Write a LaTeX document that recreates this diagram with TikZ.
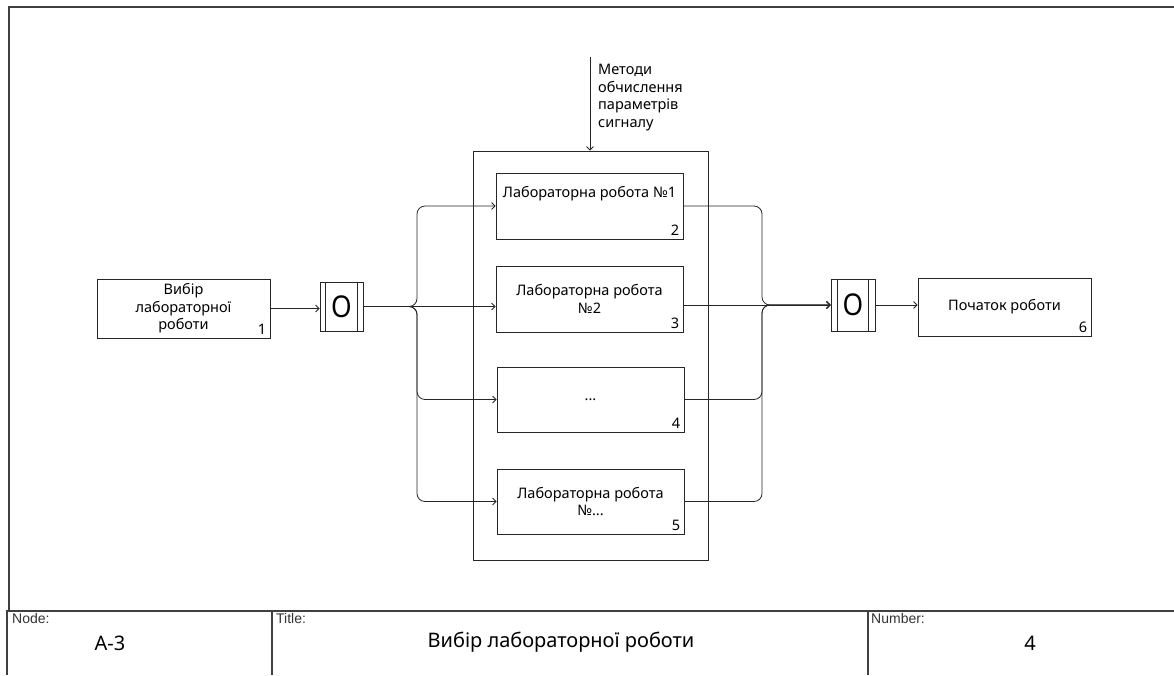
\documentclass[tikz,border=0pt]{standalone}
\usepackage{fontspec}
\setmainfont{Noto Sans}
\newfontfamily\smallf{Liberation Sans}
\usetikzlibrary{arrows.meta}
\tikzset{
  boxst/.style={draw=black!85, line width=0.8pt, inner sep=0pt, align=center,
    font=\fontsize{14.5}{17.5}\selectfont},
  numst/.style={anchor=south east, inner sep=4pt, font=\fontsize{14.5}{15}\selectfont},
  junc/.style={draw=black!85, line width=0.8pt, inner sep=0pt, font=\fontsize{30}{32}\selectfont},
  arr/.style={-{Straight Barb[length=3.5pt,width=7pt]}, line width=0.8pt, draw=black!85},
  ln/.style={line width=0.8pt, draw=black!85},
  framest/.style={line width=1.4pt, draw=black!75},
  capst/.style={anchor=north west, inner sep=0pt, font=\smallf\fontsize{14}{15}\selectfont, text=black!80},
  bigst/.style={font=\fontsize{20}{22}\selectfont}
}
\begin{document}
\begin{tikzpicture}[x=1pt,y=-1pt]
\useasboundingbox (0,0) rectangle (1174,675);
% outer frame
\draw[framest] (1174,7) -- (9,7) -- (9,611);
\draw[framest] (7,675) -- (7,611) -- (1174,611);
\draw[framest] (272,611) -- (272,675);
\draw[framest] (868,611) -- (868,675);
\node[capst] (nodecap) at (12,613) {Node:};
\node[capst] (titlecap) at (276,613) {Title:};
\node[capst] (numcap) at (871,613) {Number:};
\node[bigst] (nodeval) at (110,643) {A-3};
\node[bigst] (titleval) at (561,642) {Вибір лабораторної роботи};
\node[bigst] (numval) at (1030,643) {4};

% container
\node[draw=black!85, line width=0.8pt, minimum width=235pt, minimum height=409pt] (cont) at (590.5,355.5) {};

% boxes
\node[boxst, minimum width=173pt, minimum height=59pt,
  label={[numst]south east:1}] (b1) at (183.5,308.5) {Вибір\\лабораторної\\роботи};
\node[boxst, minimum width=187pt, minimum height=66pt,
  label={[numst]south east:2}] (b2) at (589.5,206) {Лабораторна робота №1\\[6pt]\strut};
\node[boxst, minimum width=187pt, minimum height=66pt,
  label={[numst]south east:3}] (b3) at (589.5,299) {Лабораторна робота\\№2};
\node[boxst, minimum width=187pt, minimum height=65pt,
  label={[numst]south east:4}] (b4) at (590.5,399.5) {...};
\node[boxst, minimum width=187pt, minimum height=65pt,
  label={[numst]south east:5}] (b5) at (590.5,501.5) {Лабораторна робота\\№...};
\node[boxst, minimum width=173pt, minimum height=58pt,
  label={[numst]south east:6}] (b6) at (1004.5,307) {Початок роботи};

% junctions
\node[junc, minimum width=43pt, minimum height=49pt] (j1) at (341.5,306.5) {\scalebox{0.88}[1]{O}};
\node[junc, minimum width=44pt, minimum height=52pt] (j2) at (853,305) {\scalebox{0.88}[1]{O}};
\draw[ln] ([xshift=6pt]j1.north west) -- ([xshift=6pt]j1.south west);
\draw[ln] ([xshift=-6pt]j1.north east) -- ([xshift=-6pt]j1.south east);
\draw[ln] ([xshift=7pt]j2.north west) -- ([xshift=7pt]j2.south west);
\draw[ln] ([xshift=-7pt]j2.north east) -- ([xshift=-7pt]j2.south east);

% control
\coordinate (ctrl) at (590,57);
\draw[arr] (ctrl) -- (ctrl |- cont.north);
\node[anchor=north west, inner sep=0pt, align=left, font=\fontsize{14.5}{17.5}\selectfont] (ctrltxt) at (598,64)
  {Методи\\обчислення\\параметрів\\сигналу};

% connectors
\coordinate (lb) at (417,306.5);
\coordinate (rb) at (762,305);
\draw[arr] (b1.east) -- (j1.west |- b1.east);
\draw[arr, rounded corners=8pt] (j1.east) -- (lb) -- (lb |- b2.west) -- (b2.west);
\draw[arr] (j1.east) -- (j1.east -| b3.west);
\draw[arr, rounded corners=8pt] (j1.east) -- (lb) -- (lb |- b4.west) -- (b4.west);
\draw[arr, rounded corners=8pt] (j1.east) -- (lb) -- (lb |- b5.west) -- (b5.west);
\draw[arr, rounded corners=8pt] (b2.east) -- (rb |- b2.east) -- (rb) -- (j2.west);
\draw[arr] (b3.east |- j2.west) -- (j2.west);
\draw[arr, rounded corners=8pt] (b4.east) -- (rb |- b4.east) -- (rb) -- (j2.west);
\draw[arr, rounded corners=8pt] (b5.east) -- (rb |- b5.east) -- (rb) -- (j2.west);
\draw[arr] (j2.east) -- (j2.east -| b6.west);
\end{tikzpicture}
\end{document}
